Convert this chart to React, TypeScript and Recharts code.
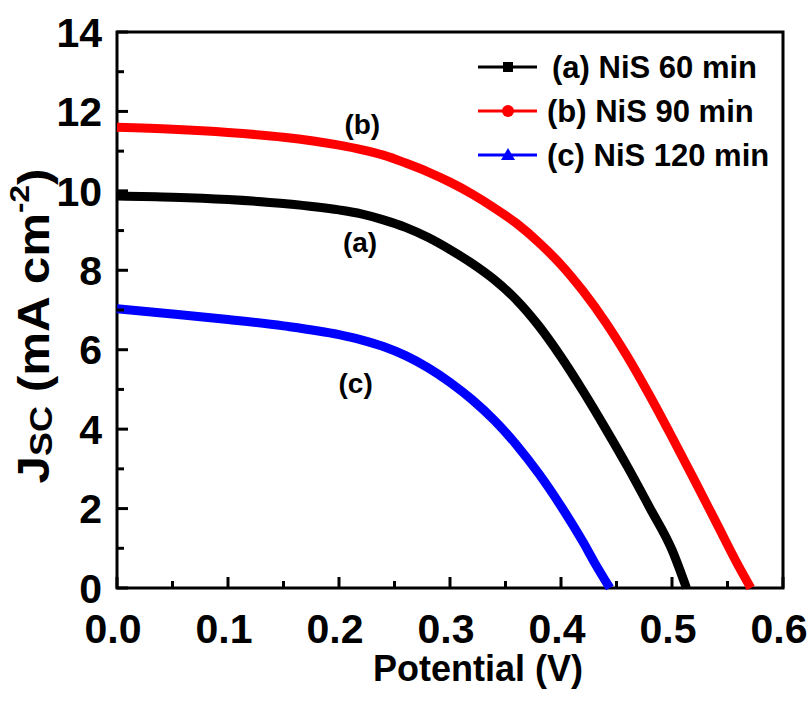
import React from "react";
import { LineChart, Line, XAxis, YAxis, ReferenceArea, ReferenceDot, Legend } from "recharts";

// J-V curves
const voltsA = [0, 0.05, 0.1, 0.15, 0.2, 0.22, 0.24, 0.26, 0.28, 0.3, 0.32, 0.34, 0.36, 0.38, 0.4, 0.42, 0.44, 0.46, 0.48, 0.5, 0.513];
const jscA = [9.87, 9.84, 9.78, 9.68, 9.52, 9.42, 9.27, 9.08, 8.83, 8.52, 8.17, 7.76, 7.25, 6.6, 5.82, 4.95, 4.02, 3.05, 2.02, 0.96, 0];

const voltsB = [0, 0.05, 0.1, 0.15, 0.2, 0.22, 0.24, 0.26, 0.28, 0.3, 0.32, 0.34, 0.36, 0.38, 0.4, 0.42, 0.44, 0.46, 0.48, 0.5, 0.52, 0.54, 0.56, 0.571];
const jscB = [11.6, 11.55, 11.47, 11.35, 11.15, 11.04, 10.9, 10.7, 10.48, 10.22, 9.92, 9.57, 9.18, 8.7, 8.14, 7.47, 6.7, 5.82, 4.84, 3.8, 2.73, 1.64, 0.55, 0];

const voltsC = [0, 0.05, 0.1, 0.15, 0.2, 0.22, 0.24, 0.26, 0.28, 0.3, 0.32, 0.34, 0.36, 0.38, 0.4, 0.42, 0.43, 0.444];
const jscC = [7.03, 6.9, 6.76, 6.6, 6.38, 6.25, 6.08, 5.85, 5.55, 5.18, 4.74, 4.22, 3.6, 2.88, 2.06, 1.15, 0.65, 0];

const seriesNames = ["(a) NiS 60 min", "(b) NiS 90 min", "(c) NiS 120 min"];
const seriesColors = ["#000000", "#ff0000", "#0000ff"];
const seriesMarkers = ["square", "circle", "triangle"];

const curveLabels = ["(a)", "(b)", "(c)"];
const curveLabelV = [0.219, 0.221, 0.215];
const curveLabelJ = [8.71, 11.68, 5.16];

const xTicks = [0, 0.05, 0.1, 0.15, 0.2, 0.25, 0.3, 0.35, 0.4, 0.45, 0.5, 0.55, 0.6];
const yTicks = [0, 1, 2, 3, 4, 5, 6, 7, 8, 9, 10, 11, 12, 13, 14];

const SANS = "'Liberation Sans', Arial, sans-serif";
const Y_GAP = 15;
const X_GAP = 40;

function YTick(props: any) {
  const { x, y, payload } = props;
  const ax = x + Y_GAP;
  const major = payload.value % 2 === 0;
  return (
    <g>
      <line x1={ax} x2={ax + (major ? 11 : 7)} y1={y} y2={y} stroke="#000" strokeWidth={3} />
      {major && (
        <text x={x} y={y} dy="0.36em" textAnchor="end" fontFamily={SANS} fontWeight="bold" fontSize={41} fill="#000">
          {payload.value}
        </text>
      )}
    </g>
  );
}

function XTick(props: any) {
  const { x, y, payload } = props;
  const ay = y - X_GAP;
  const major = Math.round(payload.value * 100) % 10 === 0;
  return (
    <g>
      <line x1={x} x2={x} y1={ay} y2={ay - (major ? 11 : 7)} stroke="#000" strokeWidth={3} />
      {major && (
        <text x={x - 4} y={y} dy="0.36em" textAnchor="middle" fontFamily={SANS} fontWeight="bold" fontSize={41} fill="#000">
          {payload.value.toFixed(1)}
        </text>
      )}
    </g>
  );
}

function Marker({ kind, cx, cy, color }: { kind: string; cx: number; cy: number; color: string }) {
  if (kind === "square") return <rect x={cx - 5} y={cy - 5} width={10} height={10} fill={color} />;
  if (kind === "circle") return <circle cx={cx} cy={cy} r={6} fill={color} />;
  return <polygon points={`${cx - 7},${cy + 5} ${cx + 7},${cy + 5} ${cx},${cy - 7}`} fill={color} />;
}

function LegendBox({ payload }: any) {
  const items = payload || [];
  return (
    <svg width={330} height={140} style={{ display: "block" }}>
      {items.map((entry: any, i: number) => {
        const cy = 27 + i * 44;
        return (
          <g key={entry.value}>
            <line x1={8} x2={67} y1={cy} y2={cy} stroke={entry.color} strokeWidth={3} />
            <Marker kind={seriesMarkers[i]} cx={38} cy={cy} color={entry.color} />
            <text x={i === 0 ? 82 : 77} y={cy} dy="0.36em" fontFamily={SANS} fontWeight="bold" fontSize={31} fill="#000">
              {entry.value}
            </text>
          </g>
        );
      })}
    </svg>
  );
}

function XTitle(p: any) {
  const vb = p.viewBox;
  return (
    <text x={vb.x + vb.width / 2 + 28} y={vb.y + 93} textAnchor="middle" fontFamily={SANS} fontWeight="bold" fontSize={36} fill="#000">
      Potential (V)
    </text>
  );
}

function YTitle(p: any) {
  const vb = p.viewBox;
  const cx = 33;
  const cy = vb.y + vb.height / 2 + 16;
  return (
    <text
      x={cx}
      y={cy}
      transform={`rotate(-90 ${cx} ${cy})`}
      textAnchor="middle"
      dominantBaseline="central"
      fontFamily={SANS}
      fontWeight="bold"
      fontSize={44}
      fill="#000"
      textLength={315}
      lengthAdjust="spacingAndGlyphs"
    >
      J
      <tspan fontSize={32} dy={8}>SC</tspan>
      <tspan dy={-8}> (mA cm</tspan>
      <tspan fontSize={28} dy={-14}>-2</tspan>
      <tspan dy={14}>)</tspan>
    </text>
  );
}

export default function App() {
  const curves = [
    voltsA.map((v, i) => ({ v, j: jscA[i] })),
    voltsB.map((v, i) => ({ v, j: jscB[i] })),
    voltsC.map((v, i) => ({ v, j: jscC[i] })),
  ];

  return (
    <div style={{ position: "absolute", left: 0, top: 0, width: 812, height: 711, background: "#fff" }}>
      <LineChart width={812} height={711} margin={{ top: 32, right: 29, bottom: 63, left: 57 }}>
        <XAxis
          type="number"
          dataKey="v"
          domain={[0, 0.6]}
          ticks={xTicks}
          interval={0}
          height={60}
          tickSize={0}
          tickMargin={X_GAP}
          axisLine={false}
          tickLine={false}
          tick={<XTick />}
          label={<XTitle />}
        />
        <YAxis
          type="number"
          dataKey="j"
          domain={[0, 14]}
          ticks={yTicks}
          interval={0}
          width={60}
          tickSize={0}
          tickMargin={Y_GAP}
          axisLine={false}
          tickLine={false}
          tick={<YTick />}
          label={<YTitle />}
        />
        <ReferenceArea x1={0} x2={0.6} y1={0} y2={14} fill="none" stroke="#000" strokeWidth={3} ifOverflow="visible" />
        {curves.map((data, i) => (
          <Line
            key={seriesNames[i]}
            data={data}
            dataKey="j"
            name={seriesNames[i]}
            type="monotone"
            stroke={seriesColors[i]}
            strokeWidth={9}
            dot={false}
            activeDot={false}
            isAnimationActive={false}
          />
        ))}
        {curveLabels.map((t, i) => (
          <ReferenceDot
            key={t}
            x={curveLabelV[i]}
            y={curveLabelJ[i]}
            r={0}
            ifOverflow="visible"
            shape={(p: any) => (
              <text x={p.cx} y={p.cy} dy="0.36em" textAnchor="middle" fontFamily={SANS} fontWeight="bold" fontSize={28} fill="#000">
                {t}
              </text>
            )}
          />
        ))}
        <Legend
          layout="vertical"
          align="center"
          verticalAlign="middle"
          content={<LegendBox />}
          wrapperStyle={{ left: 470, top: 40, width: 330, height: 140 }}
        />
      </LineChart>
    </div>
  );
}
